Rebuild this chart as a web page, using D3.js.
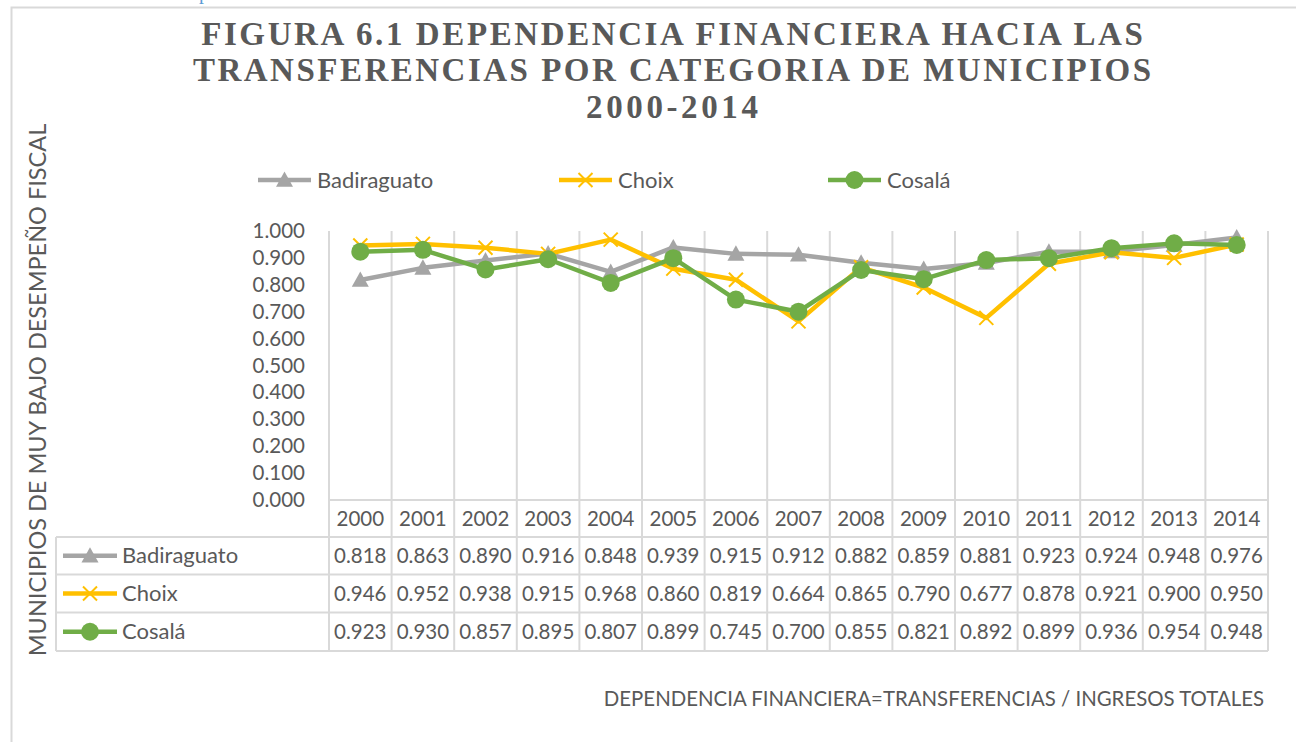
<!DOCTYPE html>
<html>
<head>
<meta charset="utf-8">
<script src="https://cdn.jsdelivr.net/npm/d3@7"></script>
<style>
  html, body { margin: 0; padding: 0; background: #fff; }
  svg { display: block; }
</style>
</head>
<body>
<svg id="chart" width="1296" height="742"></svg>
<script>
// Years and municipal series (financial dependence = transfers / total income)
const years = ["2000","2001","2002","2003","2004","2005","2006","2007","2008","2009","2010","2011","2012","2013","2014"];
const badiraguato = [0.818,0.863,0.890,0.916,0.848,0.939,0.915,0.912,0.882,0.859,0.881,0.923,0.924,0.948,0.976];
const choix       = [0.946,0.952,0.938,0.915,0.968,0.860,0.819,0.664,0.865,0.790,0.677,0.878,0.921,0.900,0.950];
const cosala      = [0.923,0.930,0.857,0.895,0.807,0.899,0.745,0.700,0.855,0.821,0.892,0.899,0.936,0.954,0.948];
const seriesNames = ["Badiraguato","Choix","Cosalá"];
const yTicks = [0,0.1,0.2,0.3,0.4,0.5,0.6,0.7,0.8,0.9,1.0];
const titleLines = ["FIGURA 6.1 DEPENDENCIA FINANCIERA HACIA LAS","TRANSFERENCIAS POR CATEGORIA DE MUNICIPIOS","2000-2014"];
const yAxisTitle = "MUNICIPIOS DE MUY BAJO DESEMPEÑO FISCAL";
const footnote = "DEPENDENCIA FINANCIERA=TRANSFERENCIAS / INGRESOS TOTALES";

const series = [
  { name: seriesNames[0], values: badiraguato, color: "#A5A5A5", marker: "triangle" },
  { name: seriesNames[1], values: choix,       color: "#FFC000", marker: "x" },
  { name: seriesNames[2], values: cosala,      color: "#70AD47", marker: "circle" }
];

const svg = d3.select("#chart");
const textColor = "#595959";
const gridColor = "#D9D9D9";
const font = "Lato, 'Open Sans', sans-serif";

// Plot geometry
const plotLeft = 329, plotRight = 1268, plotTop = 231, plotBottom = 500;
const tableLeft = 56;
const rowEdges = [500, 537, 574.5, 612.5, 651];

const x = d3.scaleBand().domain(years).range([plotLeft, plotRight]).padding(0);
const y = d3.scaleLinear().domain([0, 1]).range([plotBottom, plotTop]);

// Fragment of caption text above the chart frame
svg.append("text").attr("x", 199).attr("y", -1)
  .attr("font-family", "'Liberation Serif', serif").attr("font-size", 20)
  .attr("fill", "#5B9BD5").text("p");

// Chart frame
svg.append("path").attr("d", "M11.5,742 V7.5 H1296")
  .attr("fill", "none").attr("stroke", gridColor).attr("stroke-width", 2);

// Title
const title = svg.append("g");
const titleSpacing = [2.6, 2.5, 3.6];
titleLines.forEach((t, i) => {
  title.append("text")
    .attr("x", 672 + titleSpacing[i] / 2).attr("y", 45 + i * 36.3)
    .attr("text-anchor", "middle")
    .attr("font-family", "'Liberation Serif', 'Times New Roman', serif")
    .attr("font-weight", "bold").attr("font-size", 33)
    .attr("letter-spacing", titleSpacing[i] + "px")
    .attr("fill", textColor).text(t);
});

// Vertical gridlines across plot and table
const edges = years.map(d => x(d)).concat([plotRight]);
svg.append("g").selectAll("line").data(edges).join("line")
  .attr("x1", d => d).attr("x2", d => d)
  .attr("y1", plotTop).attr("y2", rowEdges[rowEdges.length - 1])
  .attr("stroke", gridColor).attr("stroke-width", 2);

// Table horizontal lines
const tbl = svg.append("g");
rowEdges.forEach((ry, i) => {
  tbl.append("line")
    .attr("x1", i === 0 ? plotLeft : tableLeft).attr("x2", plotRight)
    .attr("y1", ry).attr("y2", ry)
    .attr("stroke", gridColor).attr("stroke-width", 2);
});
tbl.append("line").attr("x1", tableLeft).attr("x2", tableLeft)
  .attr("y1", rowEdges[1]).attr("y2", rowEdges[4])
  .attr("stroke", gridColor).attr("stroke-width", 2);

// Y axis
const yAxis = svg.append("g").attr("transform", `translate(${plotLeft},0)`)
  .call(d3.axisLeft(y).tickValues(yTicks).tickFormat(d3.format(".3f")).tickSize(0).tickPadding(24));
yAxis.select(".domain").remove();
yAxis.selectAll("text").attr("font-family", font).attr("font-size", 20.5).attr("fill", textColor);

// Year header row
svg.append("g").selectAll("text").data(years).join("text")
  .attr("x", d => x(d) + x.bandwidth() / 2)
  .attr("y", (rowEdges[0] + rowEdges[1]) / 2 + 7)
  .attr("text-anchor", "middle")
  .attr("font-family", font).attr("font-size", 20.5).attr("fill", textColor)
  .text(d => d);

// Marker drawing helper
function drawMarker(g, type, color, cx, cy) {
  if (type === "circle") {
    g.append("circle").attr("cx", cx).attr("cy", cy).attr("r", 9).attr("fill", color);
  } else if (type === "triangle") {
    const h = 8.5;
    g.append("path")
      .attr("d", `M${cx},${cy - h} L${cx + h},${cy + h * 0.8} L${cx - h},${cy + h * 0.8} Z`)
      .attr("fill", color);
  } else {
    const r = 7;
    g.append("path")
      .attr("d", `M${cx - r},${cy - r} L${cx + r},${cy + r} M${cx - r},${cy + r} L${cx + r},${cy - r}`)
      .attr("stroke", color).attr("stroke-width", 2).attr("fill", "none");
  }
}

// Series lines and markers
const line = d3.line().x((d, i) => x(years[i]) + x.bandwidth() / 2).y(d => y(d));
series.forEach(s => {
  const g = svg.append("g");
  g.append("path").datum(s.values).attr("d", line)
    .attr("fill", "none").attr("stroke", s.color).attr("stroke-width", 4.5)
    .attr("stroke-linejoin", "round");
  s.values.forEach((v, i) => drawMarker(g, s.marker, s.color, x(years[i]) + x.bandwidth() / 2, y(v)));
});

// Legend
const legendX = [258, 559, 828];
series.forEach((s, i) => {
  const g = svg.append("g");
  const lx = legendX[i], ly = 180;
  g.append("line").attr("x1", lx).attr("x2", lx + 53).attr("y1", ly).attr("y2", ly)
    .attr("stroke", s.color).attr("stroke-width", 4.5);
  drawMarker(g, s.marker, s.color, lx + 26.5, ly);
  g.append("text").attr("x", lx + 59).attr("y", ly + 7.5)
    .attr("font-family", font).attr("font-size", 22).attr("fill", textColor).text(s.name);
});

// Data table rows
series.forEach((s, i) => {
  const g = svg.append("g");
  const cy = (rowEdges[i + 1] + rowEdges[i + 2]) / 2;
  g.append("line").attr("x1", 63).attr("x2", 117).attr("y1", cy).attr("y2", cy)
    .attr("stroke", s.color).attr("stroke-width", 4.5);
  drawMarker(g, s.marker, s.color, 90, cy);
  g.append("text").attr("x", 122).attr("y", cy + 7.5)
    .attr("font-family", font).attr("font-size", 22).attr("fill", textColor).text(s.name);
  g.selectAll("text.val").data(s.values).join("text").attr("class", "val")
    .attr("x", (d, j) => x(years[j]) + x.bandwidth() / 2)
    .attr("y", cy + 7)
    .attr("text-anchor", "middle")
    .attr("font-family", font).attr("font-size", 20.5).attr("fill", textColor)
    .text(d => d3.format(".3f")(d));
});

// Y axis title
svg.append("text")
  .attr("transform", "translate(46,390) rotate(-90)")
  .attr("text-anchor", "middle")
  .attr("font-family", font).attr("font-size", 23.5).attr("fill", textColor)
  .text(yAxisTitle);

// Footnote
svg.append("text").attr("x", 1264).attr("y", 706)
  .attr("text-anchor", "end")
  .attr("font-family", font).attr("font-size", 20.4).attr("fill", textColor)
  .text(footnote);
</script>
</body>
</html>
